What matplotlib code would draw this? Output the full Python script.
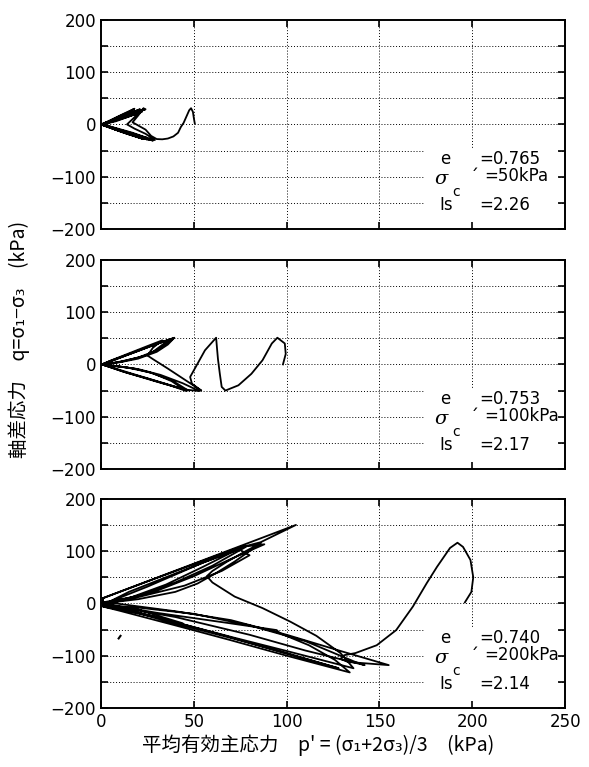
import matplotlib
matplotlib.use("Agg")
import matplotlib.pyplot as plt
from matplotlib.patches import Rectangle
from matplotlib.ticker import MultipleLocator

# stress paths, p' (kPa) and q (kPa)
top_p = [50.5, 50, 49.5, 48.5, 47.5, 46, 44.5, 43, 41.5, 39, 36, 33, 30, 27, 24, 21, 17, 20, 23, 19, 14, 18, 24, 29,
         23, 14, 5, 1, 8, 16, 21, 16, 8, 1, 10, 20, 27, 20, 10, 0.5, 8, 15, 18, 12, 5, 0.5, 9, 18, 25, 16, 7, 0.5,
         7, 13, 17, 11, 4, 0.5, 8, 17, 25, 15, 5, 0.5, 6, 14, 20, 12, 3, 0.3, 10, 22, 12, 2, 0.3, 10, 20, 10, 1,
         9, 19, 24, 15, 5, 0.5, 11, 21, 28, 18, 6, 0.5, 8, 15, 22, 14, 4, 0.5, 12, 23, 14, 3, 0.5]
top_q = [2, 12, 24, 31, 27, 15, 3, -5, -16, -23, -27, -28.5, -28, -22, -10, -4, 4, 17, 31, 17, 0, -8, -18, -30,
         -24, -14, -5, -1, 9, 21, 29, 22, 11, 1, -11, -22, -30, -23, -12, -1, 12, 24, 30, 20, 8, 0.5, -9, -19, -29, -20, -9, 0,
         9, 20, 27, 17, 5, 0, -7, -16, -26, -17, -5, 0, 7, 18, 27, 16, 3, -0.5, -13, -27, -15, -2, 0.5, 13, 25, 12, 0,
         10, 22, 29, 19, 6, 0, -12, -23, -31, -21, -7, 0, 6, 15, 24, 14, 3, 0, -15, -28, -18, -4, 0]

mid_p = [98, 99.5, 99, 95, 92, 87, 81, 74, 67, 65, 64, 63, 62.5, 62, 56, 51, 48, 49, 54, 45, 36, 28, 25, 28, 33,
         25, 15, 5, 0.5, 12, 25, 38, 46, 38, 28, 18, 8, 0.5, 10, 20, 30, 36, 39.5, 30, 18, 6, 0.5,
         14, 30, 45, 53, 44, 32, 20, 8, 0.5, 10, 20, 28, 34, 38, 28, 16, 5, 0.5,
         16, 32, 47, 38, 26, 14, 0.5, 12, 24, 33, 39, 26, 12, 1]
mid_q = [0, 20, 40, 51, 40, 8, -18, -40, -50, -43, -18, 10, 30, 51, 27, -5, -24, -37, -50, -29, -8, 10, 17, 32, 46,
         35, 21, 7, 0, -14, -27, -41, -51, -32, -17, -8, -3, 0, 4, 11, 24, 38, 51, 39, 23, 8, 0,
         -16, -33, -48, -51, -36, -20, -9, -3, -1, 5, 13, 24, 40, 49, 37, 21, 6, 0,
         -17, -34, -50, -30, -15, -6, -1, 6, 17, 33, 50, 34, 15, 0]

bot_p = [196, 199.5, 200.5, 199, 195, 192, 188, 181, 175.5, 168, 159, 148.5, 137, 131, 129, 133, 155,
         130, 100, 70, 40, 10, 1, 1, 105, 86, 72, 50, 25, 1,
         1, 20, 40, 52, 62, 72, 80, 86, 78, 68, 60, 57, 60, 72, 87, 102, 116, 129, 136,
         100, 70, 40, 10, 1, 15, 40, 60, 75, 88, 70, 50, 30, 10, 1,
         30, 69.5, 94.6, 96.4, 112, 126, 134, 100, 69.5, 40, 10, 1, 20, 44, 20, 1,
         25, 55, 78, 60, 40, 20, 1, 35, 70, 100, 128, 98, 68, 36, 1,
         20, 50, 80, 110, 137, 142, 110, 80, 40, 1,
         20, 45, 65, 80, 74, 55, 35, 15, 1]
bot_q = [2, 22, 50, 83, 108, 116, 106, 70, 39, -6, -51, -80, -95, -99, -106, -112, -118,
         -92, -60, -32, -15, -1, 3, 10, 150, 117, 104, 75, 42, 10,
         0, 8, 22, 38, 58, 80, 100, 115, 100, 80, 62, 52, 40, 13, -9, -35, -62, -95, -124,
         -91, -64, -36, -8, -3, 22, 57, 85, 108, 113, 85, 52, 24, 6, 0,
         -18, -38, -51, -57, -80, -108, -132, -100, -70, -42, -14, -6, -18, -38, -12, -2,
         32, 78, 108, 72, 40, 14, 2, -34, -66, -95, -124, -94, -63, -32, -4,
         -8, -20, -42, -72, -112, -118, -90, -60, -26, -2,
         12, 34, 62, 92, 104, 70, 36, 10, 0]

stray_p = [9.5, 10.5]
stray_q = [-67, -62]

e0_vals = ["=0.765", "=0.753", "=0.740"]
sig_vals = ["=50kPa", "=100kPa", "=200kPa"]
is_vals = ["=2.26", "=2.17", "=2.14"]

plt.rcParams['font.family'] = ['DejaVu Sans', 'Noto Sans CJK JP']
plt.rcParams['mathtext.fontset'] = 'dejavuserif'

fig = plt.figure(figsize=(5.89, 7.67), dpi=100)

bottoms = [0.7014, 0.3885, 0.0769]
paths = [(top_p, top_q), (mid_p, mid_q), (bot_p, bot_q)]

for i in range(3):
    ax = fig.add_axes([0.1715, bottoms[i], 0.788, 0.2728])
    ax.set_xlim(0, 250)
    ax.set_ylim(-200, 200)
    for v in [50, 100, 150, 200]:
        ax.axvline(v, color='k', ls=(0, (1, 2)), lw=0.7, zorder=0.5)
    for h in [-150, -100, -50, 0, 50, 100, 150]:
        ax.axhline(h, color='k', ls=(0, (1, 2)), lw=0.7, zorder=0.5)
    ax.add_patch(Rectangle((0.695, 0.012), 0.29, 0.375, transform=ax.transAxes,
                           facecolor='white', edgecolor='none', zorder=1))
    p, q = paths[i]
    ax.plot(p, q, 'k-', lw=1.3, zorder=2)
    if i == 2:
        ax.plot(stray_p, stray_q, 'k-', lw=1.5, zorder=2)

    ax.xaxis.set_major_locator(MultipleLocator(50))
    ax.yaxis.set_major_locator(MultipleLocator(100))
    ax.yaxis.set_minor_locator(MultipleLocator(50))
    ax.tick_params(which='both', direction='in', top=True, right=True,
                   length=5, width=1.2, labelsize=12)
    if i < 2:
        ax.tick_params(labelbottom=False)
    for s in ax.spines.values():
        s.set_linewidth(1.4)

    # parameter box
    ax.text(0.73, 0.335, "e", transform=ax.transAxes, fontsize=12, va='center', zorder=3)
    ax.text(0.815, 0.335, e0_vals[i], transform=ax.transAxes, fontsize=12, va='center', zorder=3)
    ax.text(0.718, 0.24, r"$\sigma$", transform=ax.transAxes, fontsize=14, va='center', zorder=3)
    ax.text(0.757, 0.175, "c", transform=ax.transAxes, fontsize=10, va='center', zorder=3)
    ax.text(0.795, 0.25, "\u00b4", transform=ax.transAxes, fontsize=13, va='center', zorder=3)
    ax.text(0.825, 0.255, sig_vals[i], transform=ax.transAxes, fontsize=12, va='center', zorder=3)
    ax.text(0.73, 0.115, "Is", transform=ax.transAxes, fontsize=12, va='center', zorder=3)
    ax.text(0.815, 0.115, is_vals[i], transform=ax.transAxes, fontsize=12, va='center', zorder=3)

cjk = ['Noto Sans CJK JP', 'DejaVu Sans']
fig.text(0.032, 0.558, "軸差応力　q=σ₁−σ₃　(kPa)", rotation=90, ha='center', va='center',
         fontsize=14, family=cjk)
fig.text(0.54, 0.029, "平均有効主応力　p' = (σ₁+2σ₃)/3　(kPa)", ha='center', va='center',
         fontsize=14, family=cjk)

fig.savefig("out.png", dpi=100)
